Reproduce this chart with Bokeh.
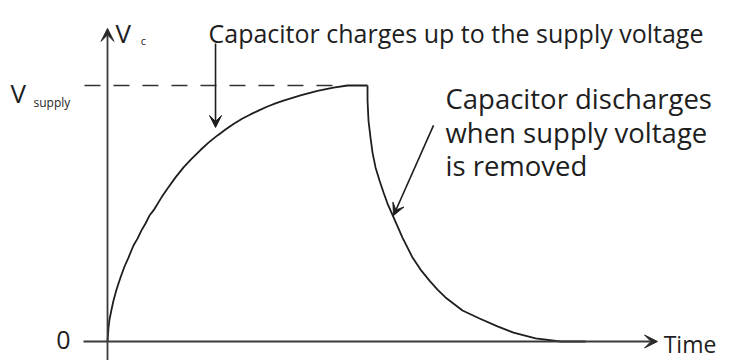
from bokeh.plotting import figure
from bokeh.models import Arrow, VeeHead, Label
from bokeh.embed import file_html
from bokeh.resources import INLINE

# ---- data (time in arbitrary units, voltage as fraction of V_supply) ----
charge_t = [0.0, 0.016, 0.031, 0.063, 0.094, 0.141, 0.203, 0.266, 0.328, 0.406,
            0.469, 0.531, 0.594, 0.656, 0.719, 0.844, 0.938, 1.063, 1.188, 1.313,
            1.453, 1.578, 1.719, 1.844, 1.969, 2.109, 2.234, 2.375, 2.5, 2.625,
            2.75, 3.016, 3.281, 3.531, 3.75, 4.063]
charge_v = [0.0, 0.055, 0.086, 0.125, 0.160, 0.203, 0.250, 0.293, 0.328, 0.375,
            0.402, 0.434, 0.461, 0.492, 0.512, 0.563, 0.598, 0.641, 0.680, 0.713,
            0.748, 0.777, 0.805, 0.828, 0.850, 0.871, 0.887, 0.904, 0.918, 0.930,
            0.941, 0.961, 0.979, 0.992, 1.0, 1.0]

discharge_t = [4.063, 4.063, 4.078, 4.109, 4.141, 4.188, 4.25, 4.313, 4.375, 4.484,
               4.609, 4.766, 4.891, 5.031, 5.156, 5.281, 5.547, 5.813, 6.094,
               6.344, 6.688, 7.078, 7.469]
discharge_v = [1.0, 0.941, 0.863, 0.797, 0.738, 0.680, 0.629, 0.582, 0.539, 0.477,
               0.406, 0.328, 0.281, 0.238, 0.203, 0.172, 0.121, 0.090, 0.059,
               0.035, 0.012, 0.0, 0.0]

v_supply = 1.0
supply_line_t = [-0.36, 3.72]

axis_x_label = "Time"
axis_y_label = "V"
axis_y_sub = "c"
supply_label = "V"
supply_sub = "supply"
zero_label = "0"
charge_note = "Capacitor charges up to the supply voltage"
discharge_note = ["Capacitor discharges", "when supply voltage", "is removed"]

FONT = "Open Sans"
INK = "#1e1e1e"

X0, X1 = -1.671875, 9.765625
Y0, Y1 = -0.07422, 1.33203

p = figure(width=732, height=360, output_backend="svg", toolbar_location=None,
           x_range=(X0, X1), y_range=(Y0, Y1),
           min_border=0, min_border_left=0, min_border_right=0,
           min_border_top=0, min_border_bottom=0)
p.axis.visible = False
p.grid.visible = False
p.outline_line_color = None
p.background_fill_color = "white"
p.border_fill_color = "white"

# axes drawn as arrows
p.add_layout(Arrow(end=VeeHead(size=13, fill_color="#2a2a2a", line_color="#2a2a2a"),
                   x_start=-0.375, y_start=0.0, x_end=8.594, y_end=0.0,
                   line_color="#3a3a3a", line_width=2))
p.add_layout(Arrow(end=VeeHead(size=13, fill_color="#2a2a2a", line_color="#2a2a2a"),
                   x_start=0.0, y_start=Y0, x_end=0.0, y_end=1.223,
                   line_color="#3a3a3a", line_width=1.8))

# supply dashed level
p.line(supply_line_t, [v_supply, v_supply], line_color="#333333", line_width=1.6,
       line_dash="16 13")

# charge / discharge curves
p.line(charge_t, charge_v, line_color=INK, line_width=1.8, line_join="round")
p.line(discharge_t, discharge_v, line_color=INK, line_width=1.8, line_join="round")

# annotation arrows
p.add_layout(Arrow(end=VeeHead(size=12, fill_color=INK, line_color=INK),
                   x_start=1.688, y_start=1.164, x_end=1.688, y_end=0.836,
                   line_color=INK, line_width=1.6))
p.add_layout(Arrow(end=VeeHead(size=12, fill_color=INK, line_color=INK),
                   x_start=5.094, y_start=0.844, x_end=4.469, y_end=0.492,
                   line_color=INK, line_width=1.6))

def lab(x, y, text, size, baseline="alphabetic"):
    p.add_layout(Label(x=x, y=y, text=text, text_font=FONT,
                       text_font_size=f"{size}px", text_color=INK,
                       text_baseline=baseline, text_align="left"))

lab(0.125, 1.207, axis_y_label, 26)
lab(0.52, 1.176, axis_y_sub, 11)
lab(-1.516, 0.969, supply_label, 26)
lab(-1.156, 0.934, supply_sub, 12)
lab(-0.80, 0.004, zero_label, 25, "middle")
lab(8.69, -0.008, axis_x_label, 23, "middle")
lab(1.578, 1.207, charge_note, 25)
for line, b in zip(discharge_note, [0.949, 0.816, 0.6875]):
    lab(5.281, b, line, 27.5)

open("out.html", "w").write(file_html(p, INLINE))
